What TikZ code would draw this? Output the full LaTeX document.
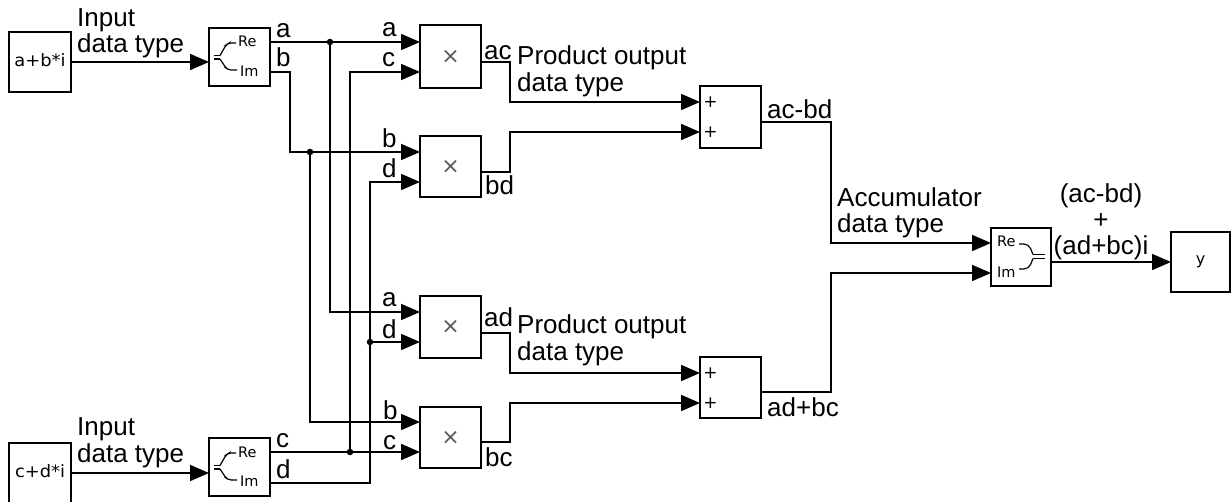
\documentclass[tikz,border=0pt]{standalone}
\usepackage{fontspec}
\usepackage{graphicx}
\setmainfont{Liberation Sans}
\newfontfamily\blkfont{DejaVu Sans}
\usetikzlibrary{arrows.meta}
\begin{document}
\begin{tikzpicture}[x=1pt,y=-1pt,
  blk/.style={draw, line width=1.8pt, inner sep=0pt, outer sep=0pt},
  wire/.style={line width=1.8pt},
  arr/.style={wire, -{Triangle[length=19pt,width=16pt]}},
  lbl/.style={anchor=base west, inner sep=0pt, font=\fontsize{26}{27}\selectfont},
  lblc/.style={anchor=base, inner sep=0pt, font=\fontsize{26}{27}\selectfont},
  small/.style={anchor=base west, inner sep=0pt, font=\blkfont\fontsize{14.5}{15}\selectfont},
  glyph/.style={line width=1.2pt, rounded corners=2pt},
  jdot/.style={circle, fill, inner sep=0pt, minimum size=6.5pt},
  plus/.style={inner sep=0pt, font=\blkfont\fontsize{17}{17}\selectfont},
  times/.style={text=black!65},
]
\useasboundingbox (0,0) rectangle (1231,502);

% ---------- blocks ----------
\node[blk, minimum width=62pt, minimum height=60pt] (src1) at (40,62)
  {\raisebox{3pt}{\scalebox{1.05}[1]{\blkfont\fontsize{17}{17}\selectfont a+b*i}}};
\node[blk, minimum width=62pt, minimum height=60pt] (src2) at (40,473)
  {\raisebox{3pt}{\scalebox{1.05}[1]{\blkfont\fontsize{17}{17}\selectfont c+d*i}}};
\node[blk, minimum width=61pt, minimum height=58pt] (sp1) at (239.5,57) {};
\node[blk, minimum width=61pt, minimum height=58pt] (sp2) at (239.5,467) {};
\node[blk, times, minimum width=61pt, minimum height=63pt] (p1) at (450.5,56.5) {\blkfont\fontsize{22}{22}\selectfont ×};
\node[blk, times, minimum width=61pt, minimum height=61pt] (p2) at (450.5,166.5) {\blkfont\fontsize{22}{22}\selectfont ×};
\node[blk, times, minimum width=61pt, minimum height=62pt] (p3) at (450.5,327) {\blkfont\fontsize{22}{22}\selectfont ×};
\node[blk, times, minimum width=61pt, minimum height=61pt] (p4) at (450.5,437.5) {\blkfont\fontsize{22}{22}\selectfont ×};
\node[blk, minimum width=61pt, minimum height=62pt] (s1) at (730.5,117) {};
\node[blk, minimum width=61pt, minimum height=61pt] (s2) at (730.5,387.5) {};
\node[blk, minimum width=60pt, minimum height=58pt] (cm) at (1021,257) {};
\node[blk, minimum width=59pt, minimum height=60pt] (out) at (1200.5,262)
  {\blkfont\fontsize{16}{16}\selectfont y};

% ---------- block internals ----------
\node[plus] (s1p1) at (710.5,102) {+};
\node[plus] (s1p2) at (710.5,132) {+};
\node[plus] (s2p1) at (710.5,373) {+};
\node[plus] (s2p2) at (710.5,403) {+};

\node[small] (sp1re) at (238,47) {Re};
\node[small] (sp1im) at (240,76.5) {Im};
\node[small] (sp2re) at (238,457) {Re};
\node[small] (sp2im) at (240,486.5) {Im};
\node[small] (cmre) at (997,247) {Re};
\node[small] (cmim) at (997,277.5) {Im};

\foreach \dy in {0,410}{
  \draw[line width=1.2pt] (214,55.5+\dy) -- (220,55.5+\dy);
  \draw[line width=1.2pt] (214,59+\dy) -- (220,59+\dy);
  \draw[glyph] (220,55.5+\dy) -- (226,45+\dy) -- (229,43+\dy) -- (236,43+\dy);
  \draw[glyph] (220,59+\dy) -- (226,68+\dy) -- (229,70+\dy) -- (237,70+\dy);
}
\draw[glyph] (1019,244) -- (1026,244) -- (1030,247) -- (1033,254.5);
\draw[glyph] (1019,269) -- (1026,269) -- (1030,266) -- (1033,258.5);
\draw[line width=1.2pt] (1033,254.5) -- (1045,254.5);
\draw[line width=1.2pt] (1033,258.5) -- (1045,258.5);

% ---------- wires ----------
\draw[arr] (src1.east |- 0,62) -- (sp1.west |- 0,62);
\draw[arr] (src2.east |- 0,473) -- (sp2.west |- 0,473);

% a
\draw[arr] (sp1.east |- 0,42) -- (p1.west |- 0,42);
\node[jdot] (ja) at (330,42) {};
\draw[arr] (ja.center) -- (330,312) -- (p3.west |- 0,312);
% b
\draw[arr] (sp1.east |- 0,72) -- (290,72) -- (290,152) -- (p2.west |- 0,152);
\node[jdot] (jb) at (310,152) {};
\draw[arr] (jb.center) -- (310,422) -- (p4.west |- 0,422);
% c
\draw[arr] (sp2.east |- 0,452) -- (p4.west |- 0,452);
\node[jdot] (jc) at (350,452) {};
\draw[arr] (jc.center) -- (350,72) -- (p1.west |- 0,72);
% d
\draw[arr] (sp2.east |- 0,483) -- (370,483) -- (370,182) -- (p2.west |- 0,182);
\node[jdot] (jd) at (370,342) {};
\draw[arr] (jd.center) -- (p3.west |- 0,342);

% products to sums
\draw[arr] (p1.east |- 0,62) -- (510,62) -- (510,102) -- (s1.west |- 0,102);
\draw[arr] (p2.east |- 0,172) -- (510,172) -- (510,132) -- (s1.west |- 0,132);
\draw[arr] (p3.east |- 0,333) -- (510,333) -- (510,373) -- (s2.west |- 0,373);
\draw[arr] (p4.east |- 0,442) -- (510,442) -- (510,403) -- (s2.west |- 0,403);

% sums to combiner
\draw[arr] (s1.east |- 0,122) -- (831,122) -- (831,243) -- (cm.west |- 0,243);
\draw[arr] (s2.east |- 0,392) -- (831,392) -- (831,273) -- (cm.west |- 0,273);
\draw[arr] (cm.east |- 0,262) -- (out.west |- 0,262);

% ---------- labels ----------
\node[lbl] (l1) at (77,27) {Input};
\node[lbl] (l2) at (77,53) {data type};
\node[lbl] (l3) at (77,435) {Input};
\node[lbl] (l4) at (77,462) {data type};

\node[lbl] (la1) at (276,38) {a};
\node[lbl] (lb1) at (276,67) {b};
\node[lbl] (lc1) at (276,447) {c};
\node[lbl] (ld1) at (276,478) {d};

\node[lbl] (lpa1) at (382,37) {a};
\node[lbl] (lpc1) at (382,67) {c};
\node[lbl] (lpb2) at (382,148) {b};
\node[lbl] (lpd2) at (382,178) {d};
\node[lbl] (lpa3) at (382,307) {a};
\node[lbl] (lpd3) at (382,338) {d};
\node[lbl] (lpb4) at (383,419) {b};
\node[lbl] (lpc4) at (383,449) {c};

\node[lbl] (lac) at (484,60) {ac};
\node[lbl] (lpo1) at (517,65) {Product output};
\node[lbl] (ldt1) at (517,92) {data type};
\node[lbl] (lbd) at (485,195) {bd};
\node[lbl] (lad) at (484,327) {ad};
\node[lbl] (lpo2) at (517,334) {Product output};
\node[lbl] (ldt2) at (517,361) {data type};
\node[lbl] (lbc) at (485,466) {bc};

\node[lbl] (lacbd) at (767,119) {ac-bd};
\node[lbl] (ladbc) at (767,416) {ad+bc};
\node[lbl] (lacc) at (837,207) {Accumulator};
\node[lbl] (ldt3) at (837,233) {data type};

\node[lblc] (r1) at (1101,203) {(ac-bd)};
\node[lblc] (r2) at (1101,229) {+};
\node[lblc] (r3) at (1101,255) {(ad+bc)i};
\end{tikzpicture}
\end{document}
